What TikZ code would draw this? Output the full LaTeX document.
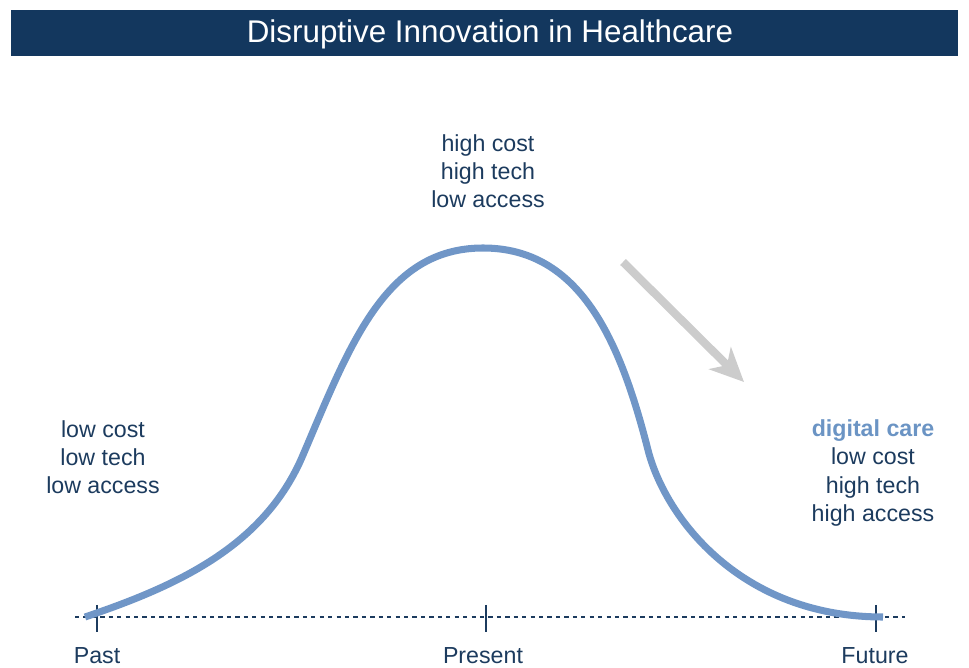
\documentclass[tikz,border=0pt]{standalone}
\usepackage{fontspec}
\setmainfont{Liberation Sans}
\usepackage{tikz}
\usetikzlibrary{calc}
\usetikzlibrary{arrows.meta}
\definecolor{titlebg}{rgb}{0.075,0.216,0.369}
\definecolor{navytxt}{rgb}{0.11,0.23,0.37}
\definecolor{curveblue}{rgb}{0.44,0.59,0.78}
\definecolor{digiblue}{rgb}{0.42,0.58,0.77}
\definecolor{arrowgray}{rgb}{0.8,0.8,0.8}
\tikzset{
  lbl/.style={font=\fontsize{16.5}{20}\selectfont, text=navytxt, align=center, inner sep=0pt},
  tick/.style={line width=1pt, color=navytxt},
}
\begin{document}
\begin{tikzpicture}[line cap=butt,line join=round,x=0.025cm,y=-0.025cm]
\useasboundingbox (0,0) rectangle (969,668);
% title bar
\fill [titlebg] (11,10) rectangle (958,56);
\node (title) [font=\fontsize{22.3}{26}\selectfont, text=white] at (490,34) {Disruptive Innovation in Healthcare};
% time axis
\coordinate (axisL) at (75,617);
\coordinate (axisR) at (905,617);
\draw [line width=1pt, color=navytxt, dash pattern=on 3pt off 3pt] (axisL) -- (axisR);
\coordinate (past) at (97,617);
\coordinate (present) at (486,617);
\coordinate (future) at (876,617);
\foreach \t in {past,present,future}
  \draw [tick] ($(\t)+(0,-12)$) -- ($(\t)+(0,15)$);
\node (pastlbl) [lbl] at (97,656) {Past};
\node (presentlbl) [lbl] at (483,656) {Present};
\node (futurelbl) [lbl] at (875,656) {Future};
% bell curve
\draw [line width=5pt, color=curveblue, line cap=butt]
  (85,617) .. controls (180,585) and (265,545) .. (303,455)
  .. controls (350,345) and (385,248) .. (483,248)
  .. controls (580,248) and (620,340) .. (648,450)
  .. controls (665,517) and (740,617) .. (883,617);
% trend arrow
\coordinate (arrowtail) at (623,262);
\coordinate (arrowtip) at (744,382);
\draw [-{Stealth[length=24pt,width=22pt,inset=7pt]}, line width=5.8pt, color=arrowgray] (arrowtail) -- (arrowtip);
% labels
\node (toplbl) [lbl] at (488,171) {high cost\\high tech\\low access};
\node (leftlbl) [lbl] at (103,457) {low cost\\low tech\\low access};
\node (rightlbl) [lbl] at (873,473) {\textcolor{digiblue}{\bfseries digital care}\\low cost\\high tech\\high access};
\end{tikzpicture}
\end{document}
